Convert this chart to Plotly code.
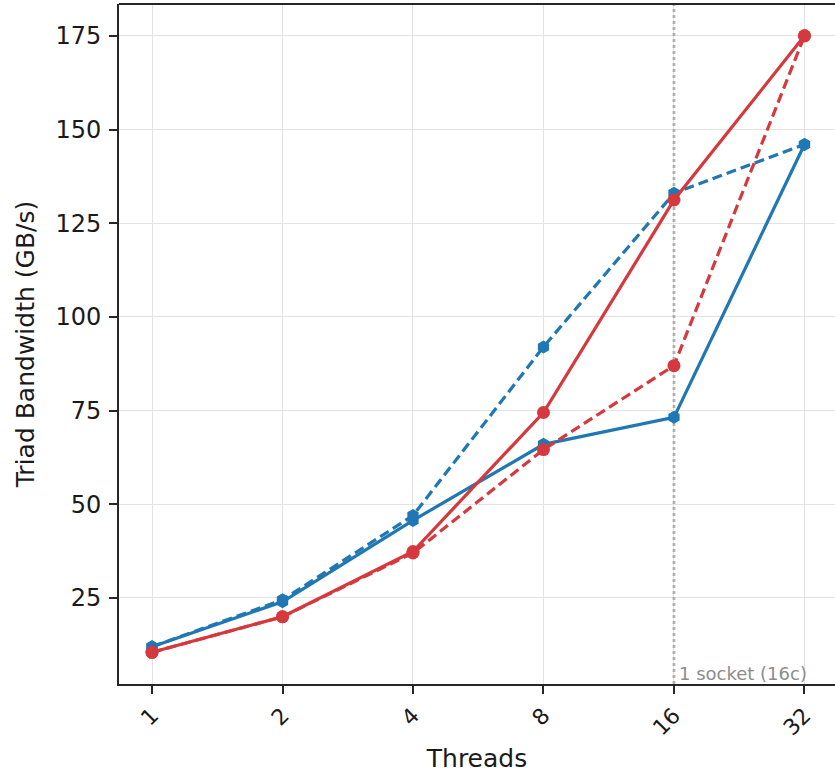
import math
import plotly.graph_objects as go

threads = [1, 2, 4, 8, 16, 32]
tick_labels = ["1", "2", "4", "8", "16", "32"]

blue_solid = [12.0, 24.0, 45.7, 66.0, 73.2, 146.0]
blue_dashed = [12.0, 24.5, 47.0, 92.0, 133.0, 146.0]
red_solid = [10.5, 20.0, 37.4, 74.5, 131.2, 175.0]
red_dashed = [10.5, 20.0, 37.0, 64.6, 87.0, 175.0]

socket_threads = 16
socket_label = "1 socket (16c)"

BLUE = "#1f77b4"
RED = "#d6393d"
FONT = "DejaVu Sans"

y_range = [2.05, 183.5]
x_range = [math.log10(2) * -0.253, math.log10(2) * 5.234]

fig = go.Figure()

# socket divider
fig.add_trace(go.Scatter(
    x=[socket_threads, socket_threads], y=y_range, mode="lines",
    line=dict(color="rgba(160,160,160,0.8)", width=2.8, dash="3px,3px"),
    hoverinfo="skip", showlegend=False))

series = [
    (blue_solid, BLUE, "solid", "hexagon"),
    (blue_dashed, BLUE, "10px,5px", "hexagon"),
    (red_solid, RED, "solid", "circle"),
    (red_dashed, RED, "10px,5px", "circle"),
]
for vals, col, dash, sym in series:
    fig.add_trace(go.Scatter(
        x=threads, y=vals, mode="lines+markers",
        line=dict(color=col, width=3.2, dash=dash),
        marker=dict(color=col, size=13, symbol=sym, line=dict(width=0)),
        showlegend=False))

fig.add_annotation(
    x=math.log10(socket_threads), y=0, xref="x", yref="paper",
    text=socket_label, showarrow=False, xanchor="left", yanchor="bottom",
    xshift=3, yshift=-2, font=dict(family=FONT, size=18, color="#8c8c8c"))

# top spine
fig.add_shape(type="line", xref="paper", yref="paper", x0=0, x1=1, y0=1, y1=1,
              line=dict(color="#262626", width=1.8))

fig.update_layout(
    width=835, height=773,
    margin=dict(l=119, r=0, t=4, b=89),
    paper_bgcolor="white", plot_bgcolor="white",
    font=dict(family=FONT, size=25, color="#1a1a1a"),
    xaxis=dict(
        type="log", range=x_range,
        tickmode="array", tickvals=threads, ticktext=tick_labels,
        tickangle=-45, ticks="outside", ticklen=8, tickwidth=1.6, tickcolor="#262626",
        showline=True, linecolor="#262626", linewidth=1.8,
        showgrid=True, gridcolor="#e3e3e3", gridwidth=1, zeroline=False,
        tickfont=dict(family=FONT, size=22),
        title=dict(text="Threads", font=dict(family=FONT, size=25), standoff=10),
    ),
    yaxis=dict(
        range=y_range, tickmode="array", tickvals=[25, 50, 75, 100, 125, 150, 175],
        ticks="outside", ticklen=8, tickwidth=1.6, tickcolor="#262626",
        showline=True, linecolor="#262626", linewidth=1.8,
        showgrid=True, gridcolor="#e3e3e3", gridwidth=1, zeroline=False,
        tickfont=dict(family=FONT, size=24), ticklabelstandoff=3,
        title=dict(text="Triad Bandwidth (GB/s)", font=dict(family=FONT, size=25), standoff=14),
    ),
)

fig.write_html("out.html")
